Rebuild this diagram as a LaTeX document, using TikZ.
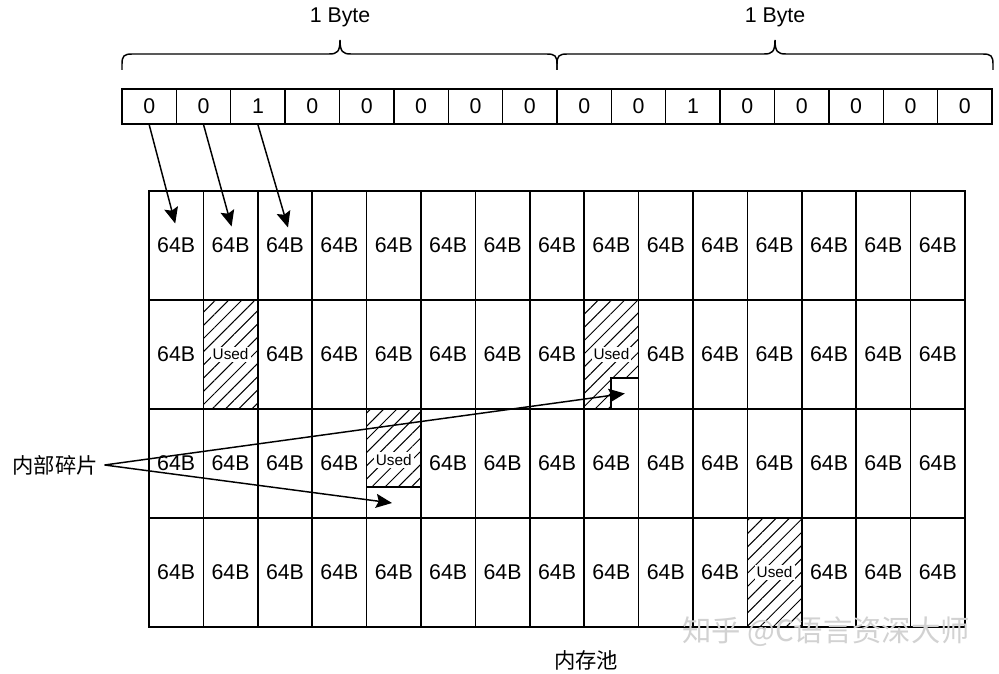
\documentclass[tikz,border=0pt]{standalone}
\usepackage{fontspec}
\setmainfont{Liberation Sans}
\newfontfamily\cjk{Noto Sans CJK SC}
\usetikzlibrary{arrows.meta,patterns.meta}
\begin{document}
\begin{tikzpicture}[x=0.75pt,y=-0.75pt,
  lw/.style={line width=1.1pt},
  cellbox/.style={draw, lw, minimum width=40.8pt, minimum height=81.75pt, inner sep=0pt, font=\fontsize{16}{18}\selectfont},
  bitbox/.style={draw, lw, minimum width=40.78pt, minimum height=26.25pt, inner sep=0pt, font=\fontsize{16}{18}\selectfont},
  hatch/.style={pattern={Lines[angle=45,distance=7pt,line width=0.75pt]}},
  usedlbl/.style={fill=white, inner sep=1.5pt, font=\fontsize{11.5}{13}\selectfont},
  arr/.style={lw, -{Stealth[length=12pt,width=10.5pt,inset=2pt]}},
  bracelbl/.style={font=\fontsize{16}{18}\selectfont},
  cjklbl/.style={font=\cjk\fontsize{16}{18}\selectfont}]
\useasboundingbox[fill=white] (0,0) rectangle (999,674);

% braces
\draw[lw] (122,70) -- (122,64) .. controls (122,56) and (124,54) .. (132,54) -- (329,54) .. controls (337,54) and (340,52) .. (340,40)
  .. controls (340,52) and (343,54) .. (351,54) -- (547,54) .. controls (555,54) and (557,56) .. (557,64) -- (557,70);
\draw[lw] (557,70) -- (557,64) .. controls (557,56) and (559,54) .. (567,54) -- (764,54) .. controls (772,54) and (775,52) .. (775,40)
  .. controls (775,52) and (778,54) .. (786,54) -- (983,54) .. controls (991,54) and (993,56) .. (993,64) -- (993,70);
\node[bracelbl] (byte1) at (340,17) {1 Byte};
\node[bracelbl] (byte2) at (775,17) {1 Byte};

% bit row
\foreach \b [count=\i] in {0,0,1,0,0,0,0,0,0,0,1,0,0,0,0,0}
  \node[bitbox] (b\i) at ({122+54.375*(\i-0.5)},106.5) {\b};

% memory grid
\foreach \r in {1,...,4}
  \foreach \c in {1,...,15} {
    \pgfmathtruncatemacro\k{100*\r+\c}
    \def\lbl{64B}
    \ifnum\k=202 \def\lbl{}\fi
    \ifnum\k=209 \def\lbl{}\fi
    \ifnum\k=305 \def\lbl{}\fi
    \ifnum\k=412 \def\lbl{}\fi
    \node[cellbox] (c\r-\c) at ({149+54.4*(\c-0.5)},{191+109*(\r-0.5)}) {\lbl};
  }

% used cells (full)
\node[cellbox, preaction={fill=white}, hatch] (u1) at (c2-2.center) {};
\node[usedlbl] (u1l) at (c2-2.center) {Used};
\node[cellbox, preaction={fill=white}, hatch] (u4) at (c4-12.center) {};
\node[usedlbl] (u4l) at (c4-12.center) {Used};

% used cell with notch
\node[cellbox, preaction={fill=white}, hatch] (u2) at (c2-9.center) {};
\node[usedlbl] (u2l) at (c2-9.center) {Used};
\node[draw, lw, fill=white, minimum width=20.7pt, minimum height=23.25pt, inner sep=0pt] (notch) at (624.8,393.5) {};

% partially used cell
\fill[hatch] (366.6,409) rectangle (421,487);
\draw[lw] (366.6,487) -- (421,487);
\node[cellbox] (u3) at (c3-5.center) {};
\node[usedlbl] (u3l) at (393.8,460) {Used};
\coordinate (frag2) at (392,503);

% bit arrows
\draw[arr] (b1.south) -- ([shift={(-1,-22)}]c1-1.center);
\draw[arr] (b2.south) -- ([shift={(1,-19)}]c1-2.center);
\draw[arr] (b3.south) -- ([shift={(3,-18)}]c1-3.center);

% fragment label
\node[cjklbl, inner sep=3pt] (frag) at (55,465) {内部碎片};
\draw[arr] ([xshift=2pt]frag.east) -- (notch.center);
\draw[arr] ([xshift=2pt]frag.east) -- (frag2);

\node[cjklbl] (pool) at (586,660) {内存池};
\node[font=\cjk\fontsize{22}{26}\selectfont, text=gray!35] (wm) at (826,632) {知乎 @C语言资深大师};
\end{tikzpicture}
\end{document}
